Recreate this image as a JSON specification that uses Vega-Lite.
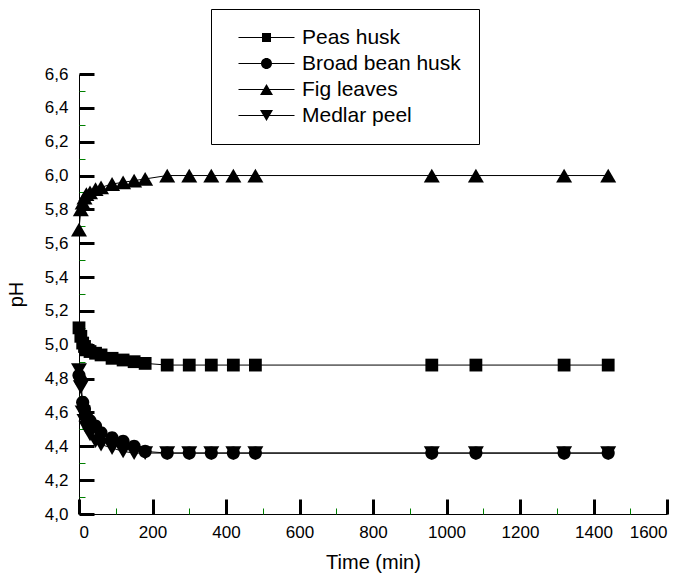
{
  "$schema": "https://vega.github.io/schema/vega-lite/v6.json",
  "width": 588,
  "height": 440,
  "autosize": {"type": "none"},
  "padding": {"left": 79, "top": 74, "right": 19, "bottom": 67},
  "background": "white",
  "config": {
    "view": {"stroke": null},
    "font": "Liberation Sans",
    "axis": {"grid": false, "domainColor": "black", "labelColor": "black", "titleColor": "black", "titleFontWeight": "normal", "labelFont": "Liberation Sans", "titleFont": "Liberation Sans"}
  },
  "data": {"values": [
    {"series": "Peas husk", "t": 0, "ph": 5.10}, {"series": "Peas husk", "t": 5, "ph": 5.05}, {"series": "Peas husk", "t": 10, "ph": 5.01}, {"series": "Peas husk", "t": 15, "ph": 4.99}, {"series": "Peas husk", "t": 20, "ph": 4.97}, {"series": "Peas husk", "t": 30, "ph": 4.96}, {"series": "Peas husk", "t": 45, "ph": 4.95}, {"series": "Peas husk", "t": 60, "ph": 4.94}, {"series": "Peas husk", "t": 90, "ph": 4.92}, {"series": "Peas husk", "t": 120, "ph": 4.91}, {"series": "Peas husk", "t": 150, "ph": 4.90}, {"series": "Peas husk", "t": 180, "ph": 4.89}, {"series": "Peas husk", "t": 240, "ph": 4.88}, {"series": "Peas husk", "t": 300, "ph": 4.88}, {"series": "Peas husk", "t": 360, "ph": 4.88}, {"series": "Peas husk", "t": 420, "ph": 4.88}, {"series": "Peas husk", "t": 480, "ph": 4.88}, {"series": "Peas husk", "t": 960, "ph": 4.88}, {"series": "Peas husk", "t": 1080, "ph": 4.88}, {"series": "Peas husk", "t": 1320, "ph": 4.88}, {"series": "Peas husk", "t": 1440, "ph": 4.88},
    {"series": "Broad bean husk", "t": 0, "ph": 4.82}, {"series": "Broad bean husk", "t": 5, "ph": 4.79}, {"series": "Broad bean husk", "t": 10, "ph": 4.66}, {"series": "Broad bean husk", "t": 15, "ph": 4.62}, {"series": "Broad bean husk", "t": 20, "ph": 4.58}, {"series": "Broad bean husk", "t": 30, "ph": 4.55}, {"series": "Broad bean husk", "t": 45, "ph": 4.52}, {"series": "Broad bean husk", "t": 60, "ph": 4.48}, {"series": "Broad bean husk", "t": 90, "ph": 4.45}, {"series": "Broad bean husk", "t": 120, "ph": 4.43}, {"series": "Broad bean husk", "t": 150, "ph": 4.40}, {"series": "Broad bean husk", "t": 180, "ph": 4.37}, {"series": "Broad bean husk", "t": 240, "ph": 4.36}, {"series": "Broad bean husk", "t": 300, "ph": 4.36}, {"series": "Broad bean husk", "t": 360, "ph": 4.36}, {"series": "Broad bean husk", "t": 420, "ph": 4.36}, {"series": "Broad bean husk", "t": 480, "ph": 4.36}, {"series": "Broad bean husk", "t": 960, "ph": 4.36}, {"series": "Broad bean husk", "t": 1080, "ph": 4.36}, {"series": "Broad bean husk", "t": 1320, "ph": 4.36}, {"series": "Broad bean husk", "t": 1440, "ph": 4.36},
    {"series": "Fig leaves", "t": 0, "ph": 5.68}, {"series": "Fig leaves", "t": 5, "ph": 5.80}, {"series": "Fig leaves", "t": 10, "ph": 5.84}, {"series": "Fig leaves", "t": 15, "ph": 5.87}, {"series": "Fig leaves", "t": 20, "ph": 5.89}, {"series": "Fig leaves", "t": 30, "ph": 5.90}, {"series": "Fig leaves", "t": 45, "ph": 5.92}, {"series": "Fig leaves", "t": 60, "ph": 5.93}, {"series": "Fig leaves", "t": 90, "ph": 5.95}, {"series": "Fig leaves", "t": 120, "ph": 5.96}, {"series": "Fig leaves", "t": 150, "ph": 5.97}, {"series": "Fig leaves", "t": 180, "ph": 5.98}, {"series": "Fig leaves", "t": 240, "ph": 6.00}, {"series": "Fig leaves", "t": 300, "ph": 6.00}, {"series": "Fig leaves", "t": 360, "ph": 6.00}, {"series": "Fig leaves", "t": 420, "ph": 6.00}, {"series": "Fig leaves", "t": 480, "ph": 6.00}, {"series": "Fig leaves", "t": 960, "ph": 6.00}, {"series": "Fig leaves", "t": 1080, "ph": 6.00}, {"series": "Fig leaves", "t": 1320, "ph": 6.00}, {"series": "Fig leaves", "t": 1440, "ph": 6.00},
    {"series": "Medlar peel", "t": 0, "ph": 4.85}, {"series": "Medlar peel", "t": 5, "ph": 4.75}, {"series": "Medlar peel", "t": 10, "ph": 4.60}, {"series": "Medlar peel", "t": 15, "ph": 4.55}, {"series": "Medlar peel", "t": 20, "ph": 4.51}, {"series": "Medlar peel", "t": 30, "ph": 4.47}, {"series": "Medlar peel", "t": 45, "ph": 4.43}, {"series": "Medlar peel", "t": 60, "ph": 4.41}, {"series": "Medlar peel", "t": 90, "ph": 4.39}, {"series": "Medlar peel", "t": 120, "ph": 4.37}, {"series": "Medlar peel", "t": 150, "ph": 4.36}, {"series": "Medlar peel", "t": 180, "ph": 4.36}, {"series": "Medlar peel", "t": 240, "ph": 4.36}, {"series": "Medlar peel", "t": 300, "ph": 4.36}, {"series": "Medlar peel", "t": 360, "ph": 4.36}, {"series": "Medlar peel", "t": 420, "ph": 4.36}, {"series": "Medlar peel", "t": 480, "ph": 4.36}, {"series": "Medlar peel", "t": 960, "ph": 4.36}, {"series": "Medlar peel", "t": 1080, "ph": 4.36}, {"series": "Medlar peel", "t": 1320, "ph": 4.36}, {"series": "Medlar peel", "t": 1440, "ph": 4.36}
  ]},
  "layer": [
    {
      "mark": {"type": "line", "color": "black", "strokeWidth": 1},
      "encoding": {
        "x": {"field": "t", "type": "quantitative", "scale": {"domain": [0, 1600], "nice": false, "zero": false},
          "axis": {"orient": "bottom", "values": [0, 200, 400, 600, 800, 1000, 1200, 1400, 1600], "format": "d", "ticks": false, "labelPadding": 10, "labelFontSize": 17, "title": "Time (min)", "titleFontSize": 20, "titlePadding": 12}},
        "y": {"field": "ph", "type": "quantitative", "scale": {"domain": [4.0, 6.6], "nice": false, "zero": false},
          "axis": {"orient": "left", "values": [4.0, 4.2, 4.4, 4.6, 4.8, 5.0, 5.2, 5.4, 5.6, 5.8, 6.0, 6.2, 6.4, 6.6], "labelExpr": "replace(format(datum.value, '.1f'), '.', ',')", "ticks": false, "labelPadding": 11, "labelFontSize": 17, "title": "pH", "titleFontSize": 20, "titlePadding": 18}},
        "detail": {"field": "series", "type": "nominal"}
      }
    },
    {
      "mark": {"type": "point", "filled": true, "color": "black", "opacity": 1, "size": 256, "strokeWidth": 0},
      "encoding": {
        "x": {"field": "t", "type": "quantitative", "axis": null},
        "y": {"field": "ph", "type": "quantitative", "axis": null},
        "shape": {"field": "series", "type": "nominal", "legend": null,
          "scale": {"domain": ["Peas husk", "Broad bean husk", "Fig leaves", "Medlar peel"],
            "range": ["M-0.8,-0.8H0.8V0.8H-0.8Z", "M0.82,0A0.82,0.82,0,1,1,-0.82,0A0.82,0.82,0,1,1,0.82,0Z", "M0,-0.86L1,0.86H-1Z", "M0,0.86L1,-0.86H-1Z"]}}
      }
    },
    {
      "mark": {"type": "point", "filled": true, "color": "black", "opacity": 0},
      "encoding": {
        "x": {"field": "t", "type": "quantitative",
          "axis": {"orient": "top", "offset": -440, "values": [0, 200, 400, 600, 800, 1000, 1200, 1400, 1600], "tickSize": 15, "tickWidth": 3, "tickColor": "black", "labels": false, "domain": false, "title": null}},
        "y": {"field": "ph", "type": "quantitative",
          "axis": {"orient": "right", "offset": -588, "values": [4.0, 4.2, 4.4, 4.6, 4.8, 5.0, 5.2, 5.4, 5.6, 5.8, 6.0, 6.2, 6.4, 6.6], "tickSize": 15, "tickWidth": 3, "tickColor": "black", "labels": false, "domain": false, "title": null}},
        "shape": {"field": "series", "type": "nominal",
          "scale": {"domain": ["Peas husk", "Broad bean husk", "Fig leaves", "Medlar peel"],
            "range": ["M-5.6,-0.1H5.6V0.1H-5.6ZM-0.9,-0.9H0.9V0.9H-0.9Z", "M-5.6,-0.1H5.6V0.1H-5.6ZM1.1,0A1.1,1.1,0,1,1,-1.1,0A1.1,1.1,0,1,1,1.1,0Z", "M-5.6,-0.1H5.6V0.1H-5.6ZM0,-1.1L1.3,1.1H-1.3Z", "M-5.6,-0.1H5.6V0.1H-5.6ZM0,1.1L-1.3,-1.1H1.3Z"]},
          "legend": {"orient": "none", "legendX": 132, "legendY": -65, "title": null, "strokeColor": "black", "padding": 18,
            "symbolSize": 100, "symbolOffset": 27, "labelOffset": 25, "labelFontSize": 21, "labelFont": "Liberation Sans", "labelColor": "black", "rowPadding": 4,
            "symbolFillColor": "black", "symbolOpacity": 1}}
      }
    },
    {
      "mark": {"type": "point", "filled": true, "color": "black", "opacity": 0},
      "encoding": {
        "x": {"field": "t", "type": "quantitative",
          "axis": {"orient": "top", "offset": -440, "values": [100, 300, 500, 700, 900, 1100, 1300, 1500], "tickSize": 6, "tickWidth": 1, "tickColor": "green", "labels": false, "domain": false, "title": null}},
        "y": {"field": "ph", "type": "quantitative",
          "axis": {"orient": "right", "offset": -588, "values": [4.1, 4.3, 4.5, 4.7, 4.9, 5.1, 5.3, 5.5, 5.7, 5.9, 6.1, 6.3, 6.5], "tickSize": 6, "tickWidth": 1, "tickColor": "green", "labels": false, "domain": false, "title": null}}
      }
    }
  ],
  "resolve": {"scale": {"shape": "independent"}, "legend": {"shape": "independent"}, "axis": {"x": "independent", "y": "independent"}}
}
